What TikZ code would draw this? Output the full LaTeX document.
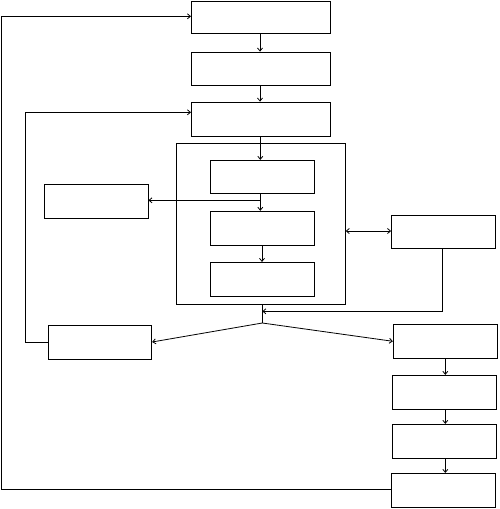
\documentclass[tikz,border=0pt]{standalone}
\usetikzlibrary{arrows.meta}
\begin{document}
\begin{tikzpicture}[x=1pt,y=-1pt,
  box/.style={draw,line width=0.8pt,inner sep=0pt,rectangle},
  conn/.style={line width=0.8pt},
  arr/.style={conn,-{Straight Barb[length=3pt,width=5pt]}},
  darr/.style={conn,{Straight Barb[length=3pt,width=5pt]}-{Straight Barb[length=3pt,width=5pt]}}]
\useasboundingbox (0,0) rectangle (499,509);
\node[box,minimum width=139pt,minimum height=32pt] (b1) at (260.5,17) {};
\node[box,minimum width=139pt,minimum height=33pt] (b2) at (260.5,68.5) {};
\node[box,minimum width=139pt,minimum height=34pt] (b3) at (260.5,119) {};
\node[box,minimum width=169pt,minimum height=161pt] (cont) at (260.8,223.8) {};
\node[box,minimum width=104pt,minimum height=33pt] (A) at (262.3,176.8) {};
\node[box,minimum width=104pt,minimum height=34pt] (B) at (262.3,228.2) {};
\node[box,minimum width=104pt,minimum height=34pt] (C) at (262.3,279.3) {};
\node[box,minimum width=104pt,minimum height=34pt] (L1) at (96,201) {};
\node[box,minimum width=104pt,minimum height=33pt] (RB) at (443.5,231.8) {};
\node[box,minimum width=103.4pt,minimum height=34pt] (LB) at (100,342) {};
\node[box,minimum width=104pt,minimum height=34pt] (R1) at (445.3,341.3) {};
\node[box,minimum width=104pt,minimum height=34pt] (R2) at (444.3,392.3) {};
\node[box,minimum width=104pt,minimum height=34pt] (R3) at (444.3,441.3) {};
\node[box,minimum width=104pt,minimum height=33.7pt] (R4) at (443.3,490.2) {};
% coordinates
\coordinate (j1) at (260.3,200.3);
\coordinate (j2) at (262.3,311.3);
\coordinate (j3) at (262.3,323);
\coordinate (lc1) at (25.3,342);
\coordinate (lc2) at (25.3,112.3);
\coordinate (lt) at (191,112.3);
\coordinate (bc1) at (1.7,489.3);
\coordinate (bc2) at (1.7,16.3);
\coordinate (bt) at (191,16.3);
\coordinate (rc) at (442.3,311.3);
% connectors
\draw[arr] (b1.south -| 260,0) -- (b2.north -| 260,0);
\draw[arr] (b2.south -| 260,0) -- (b3.north -| 260,0);
\draw[arr] (b3.south -| 260.3,0) -- (A.north -| 260.3,0);
\draw[arr] (A.south -| 260.3,0) -- (B.north -| 260.3,0);
\draw[arr] (B.south -| 262,0) -- (C.north -| 262,0);
\draw[arr] (j1) -- (L1.east |- j1);
\draw[darr] (cont.east |- 0,231) -- (RB.west |- 0,231);
\draw[arr] (RB.south -| rc) -- (rc) -- (j2);
\draw[conn] (cont.south -| j3) -- (j3);
\draw[arr] (j3) -- (LB.east);
\draw[arr] (j3) -- (R1.west);
\draw[arr] (LB.west) -- (lc1) -- (lc2) -- (lt);
\draw[arr] (R1.south -| 445.3,0) -- (R2.north -| 445.3,0);
\draw[arr] (R2.south -| 445.3,0) -- (R3.north -| 445.3,0);
\draw[arr] (R3.south -| 445.3,0) -- (R4.north -| 445.3,0);
\draw[arr] (R4.west |- bc1) -- (bc1) -- (bc2) -- (bt);
\end{tikzpicture}
\end{document}
